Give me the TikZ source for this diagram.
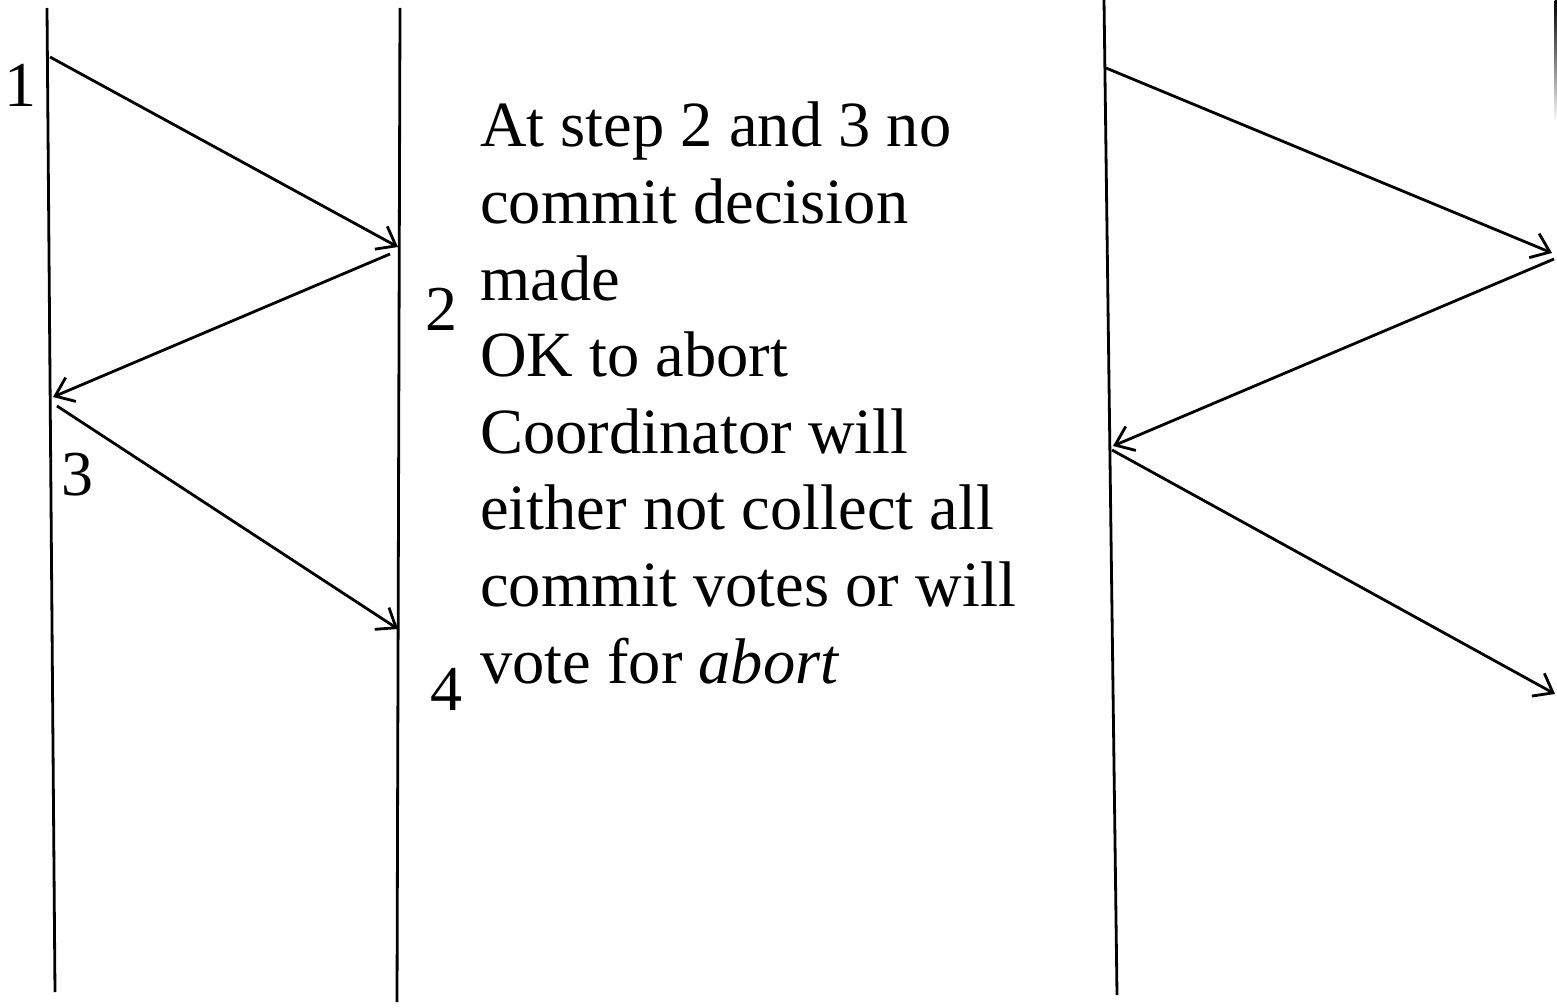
\documentclass[tikz,border=0pt]{standalone}
\usepackage{fontspec}
\setmainfont{Liberation Serif}
\usetikzlibrary{arrows.meta}
\begin{document}
\begin{tikzpicture}[x=1pt,y=-1pt,
  lifeline/.style={line width=2.8pt},
  msg/.style={line width=2.8pt,-{Straight Barb[length=17pt,width=26pt,line width=2.8pt]}},
  lbl/.style={inner sep=0pt,anchor=base,font=\rmfamily\fontsize{64pt}{76.6pt}\selectfont},
  note/.style={inner sep=0pt,anchor=base west,align=left,font=\rmfamily\fontsize{64.5pt}{76.6pt}\selectfont}]
\useasboundingbox (0,0) rectangle (1557,1008);
% lifelines
\coordinate (L1t) at (47,8);   \coordinate (L1b) at (55,992);
\coordinate (L2t) at (400,8);  \coordinate (L2b) at (397,1002);
\coordinate (L3t) at (1104,0); \coordinate (L3b) at (1117,995);
\draw[lifeline] (L1t) -- (L1b);
\draw[lifeline] (L2t) -- (L2b);
\draw[lifeline] (L3t) -- (L3b);
\shade[top color=black,bottom color=white] (1554.5,0) rectangle (1557,122);
% message end points
\coordinate (p1) at (50,57);
\coordinate (q1) at (398,247);
\coordinate (q2) at (390,254);
\coordinate (p2) at (53,397);
\coordinate (p3) at (57,406);
\coordinate (q3) at (398,629);
\coordinate (r1) at (1106,68);
\coordinate (s1) at (1552,253);
\coordinate (s2) at (1554,259);
\coordinate (r2) at (1113,446);
\coordinate (r3) at (1112,450);
\coordinate (s3) at (1555,694);
\draw[msg] (p1) -- (q1);
\draw[msg] (q2) -- (p2);
\draw[msg] (p3) -- (q3);
\draw[msg] (r1) -- (s1);
\draw[msg] (s2) -- (r2);
\draw[msg] (r3) -- (s3);
% step labels
\node[lbl] (n1) at (21,107) {1};
\node[lbl] (n2) at (441,330) {2};
\node[lbl] (n3) at (77,495) {3};
\node[lbl] (n4) at (446,710) {4};
% note (base anchor = baseline of last line)
\node[note] (txt) at (480,683) {At step 2 and 3 no\\commit decision\\made\\OK to abort\\Coordinator will\\either not collect all\\commit votes or will\\vote for \textit{abort}};
\end{tikzpicture}
\end{document}
